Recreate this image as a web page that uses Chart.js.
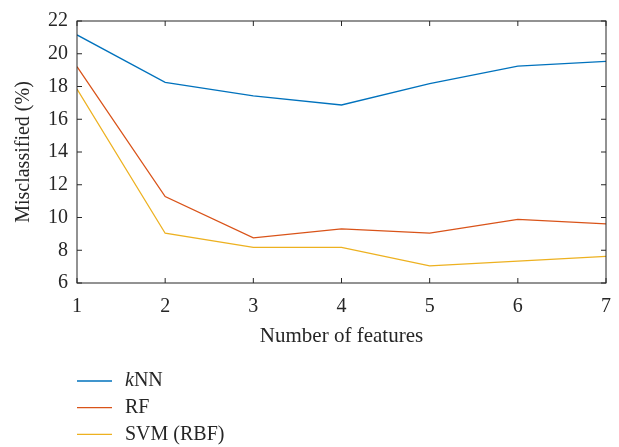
<!DOCTYPE html>
<html>
<head>
<meta charset="utf-8">
<script src="https://cdn.jsdelivr.net/npm/chart.js@4.4.1/dist/chart.umd.min.js"></script>
<style>
html, body { margin: 0; padding: 0; background: #fff; }
</style>
</head>
<body>
<canvas id="myChart" width="619" height="447"></canvas>
<script>
// data
var features = [1, 2, 3, 4, 5, 6, 7];
var knn = [21.15, 18.25, 17.43, 16.87, 18.17, 19.25, 19.53];
var rf  = [19.21, 11.28, 8.76, 9.31, 9.04, 9.88, 9.61];
var svm = [17.84, 9.04, 8.17, 8.17, 7.05, 7.33, 7.62];
var seriesNames = ['kNN', 'RF', 'SVM (RBF)'];
var xTicks = [1, 2, 3, 4, 5, 6, 7];
var yTicks = [6, 8, 10, 12, 14, 16, 18, 20, 22];

var FONT = "'Liberation Serif', 'DejaVu Serif', serif";
var INK = '#262626';

function toPoints(values){
    return features.map(function(f, i){ return {x: f, y: values[i]}; });
}

// box around the plot + inward ticks on every side
var boxTicks = {
    id: 'boxTicks',
    afterDraw: function(chart){
        var ctx = chart.ctx, a = chart.chartArea;
        var xs = chart.scales.x, ys = chart.scales.y;
        var len = 5;
        ctx.save();
        ctx.strokeStyle = INK;
        ctx.lineWidth = 1;
        ctx.strokeRect(a.left, a.top, a.right - a.left, a.bottom - a.top);
        ctx.beginPath();
        xTicks.forEach(function(v){
            var px = xs.getPixelForValue(v);
            ctx.moveTo(px, a.bottom); ctx.lineTo(px, a.bottom - len);
            ctx.moveTo(px, a.top); ctx.lineTo(px, a.top + len);
        });
        yTicks.forEach(function(v){
            var py = ys.getPixelForValue(v);
            ctx.moveTo(a.left, py); ctx.lineTo(a.left + len, py);
            ctx.moveTo(a.right, py); ctx.lineTo(a.right - len, py);
        });
        ctx.stroke();
        ctx.restore();
    }
};

// vertical legend under the x axis title
var sideLegend = {
    id: 'sideLegend',
    afterDraw: function(chart){
        var ctx = chart.ctx;
        ctx.save();
        ctx.textBaseline = 'middle';
        chart.data.datasets.forEach(function(ds, i){
            var y = 381 + i * 26.7;
            ctx.strokeStyle = ds.borderColor;
            ctx.lineWidth = 1.3;
            ctx.beginPath();
            ctx.moveTo(77, y); ctx.lineTo(112, y);
            ctx.stroke();
            ctx.fillStyle = INK;
            var x = 125;
            var text = ds.label;
            if (ds.italicPrefix){
                ctx.font = 'italic 20px ' + FONT;
                ctx.fillText(ds.italicPrefix, x, y);
                x += ctx.measureText(ds.italicPrefix).width;
                text = text.slice(ds.italicPrefix.length);
            }
            ctx.font = '20px ' + FONT;
            ctx.fillText(text, x, y);
        });
        ctx.restore();
    }
};

var ctx = document.getElementById('myChart').getContext('2d');
var myChart = new Chart(ctx, {
    type: 'line',
    data: {
        datasets: [{
            label: seriesNames[0],
            italicPrefix: 'k',
            data: toPoints(knn),
            borderColor: '#0072BD',
            borderWidth: 1.3,
            pointRadius: 0,
            tension: 0
        }, {
            label: seriesNames[1],
            data: toPoints(rf),
            borderColor: '#D95319',
            borderWidth: 1.3,
            pointRadius: 0,
            tension: 0
        }, {
            label: seriesNames[2],
            data: toPoints(svm),
            borderColor: '#EDB120',
            borderWidth: 1.3,
            pointRadius: 0,
            tension: 0
        }]
    },
    options: {
        responsive: false,
        animation: false,
        layout: { autoPadding: false, padding: { left: 0, right: 13, top: 12, bottom: 95 } },
        plugins: {
            legend: { display: false },
            tooltip: { enabled: false }
        },
        scales: {
            x: {
                type: 'linear',
                min: 1,
                max: 7,
                afterBuildTicks: function(scale){
                    scale.ticks = xTicks.map(function(v){ return {value: v}; });
                },
                grid: { drawOnChartArea: false, drawTicks: false },
                border: { display: false },
                ticks: { color: INK, padding: 12, maxRotation: 0, font: { family: FONT, size: 20 } },
                title: {
                    display: true,
                    text: 'Number of features',
                    color: INK,
                    font: { family: FONT, size: 21 },
                    padding: { top: 4, bottom: 3 }
                },
                afterFit: function(scale){
                    scale.height = 69;
                    scale.paddingLeft = 0;
                    scale.paddingRight = 0;
                }
            },
            y: {
                min: 6,
                max: 22,
                afterBuildTicks: function(scale){
                    scale.ticks = yTicks.map(function(v){ return {value: v}; });
                },
                grid: { drawOnChartArea: false, drawTicks: false },
                border: { display: false },
                ticks: { color: INK, padding: 9, font: { family: FONT, size: 20 } },
                title: {
                    display: true,
                    text: 'Misclassified (%)',
                    color: INK,
                    font: { family: FONT, size: 20 },
                    padding: { top: 12, bottom: 0 }
                },
                afterFit: function(scale){ scale.width = 77; }
            }
        }
    },
    plugins: [boxTicks, sideLegend]
});
</script>
</body>
</html>
